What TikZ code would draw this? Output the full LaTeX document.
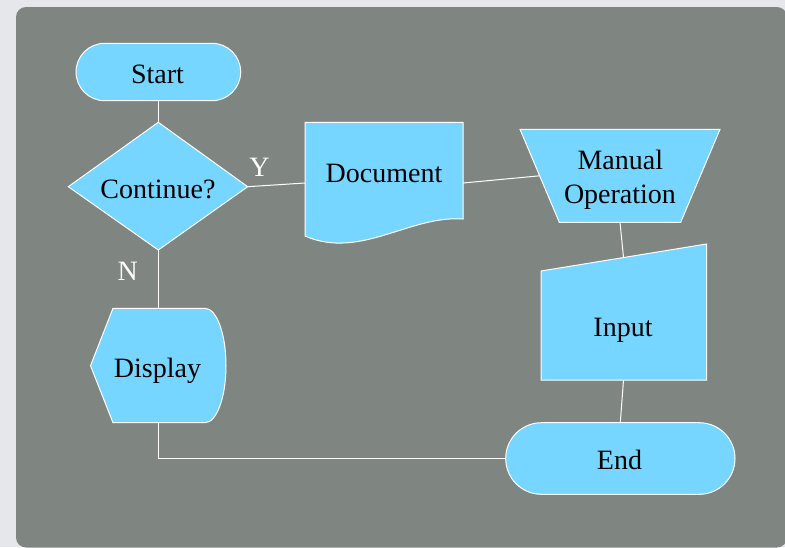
\documentclass[tikz,border=0pt]{standalone}
\usepackage{fontspec}
\setmainfont{Liberation Serif}
\definecolor{bgout}{HTML}{E5E7EA}
\definecolor{panel}{HTML}{7F8682}
\definecolor{shapefill}{HTML}{76D6FF}
\begin{document}
\begin{tikzpicture}[x=1pt,y=-1pt,
  shapebox/.style={fill=shapefill, draw=white, line width=1pt},
  lbl/.style={font=\fontsize{28}{32}\selectfont, text=black, inner sep=0pt, anchor=base},
  yn/.style={font=\fontsize{28}{32}\selectfont, text=white, inner sep=0pt, anchor=base},
  conn/.style={draw=white, line width=1pt}]
\fill[bgout] (0,0) rectangle (785,547);
\useasboundingbox (0,0) rectangle (785,547);
\fill[panel, rounded corners=10pt] (16,7) rectangle (787,547.5);

% Start
\path[shapebox, rounded corners=28.7pt] (76,43.3) rectangle (240.7,100.7);
\coordinate (startS) at (158.3,100.7);
\node[lbl] (start) at (157.5,83.3) {Start};

% Continue?
\path[shapebox] (158.3,122.3) -- (247.7,186.7) -- (158.3,250) -- (68.3,186.7) -- cycle;
\coordinate (contN) at (158.3,122.3);
\coordinate (contE) at (247.7,186.7);
\coordinate (contS) at (158.3,250);
\node[lbl] (cont) at (158,198.3) {Continue?};

% Document
\path[shapebox] (305,122.3) -- (463,122.3) -- (463,219)
  .. controls (410,215) and (360,260) .. (305,236) -- cycle;
\coordinate (docW) at (305,183);
\coordinate (docE) at (463,183);
\node[lbl] (doc) at (384,182.3) {Document};

% Manual Operation
\path[shapebox] (520,129.3) -- (720,129.3) -- (680.7,222.3) -- (559.3,222.3) -- cycle;
\coordinate (manW) at (539.7,175.8);
\coordinate (manS) at (620,222.3);
\node[lbl] (manA) at (620.3,169) {Manual};
\node[lbl] (manB) at (620,203.3) {Operation};

% Input
\path[shapebox] (541,271) -- (706.5,244) -- (706.5,380) -- (541,380) -- cycle;
\coordinate (inN) at (623.5,257.5);
\coordinate (inS) at (623.5,380);
\node[lbl] (input) at (623,336.7) {Input};

% Display
\path[shapebox] (90.5,365.7) -- (113,308.3) -- (205,308.3)
  .. controls (216.6,308.3) and (226,333.8) .. (226,365.7)
  .. controls (226,397.4) and (216.6,422.7) .. (205,422.7)
  -- (113,422.7) -- cycle;
\coordinate (dispN) at (158.3,308.3);
\coordinate (dispS) at (158.3,422.7);
\node[lbl] (disp) at (157.5,377.3) {Display};

% End
\path[shapebox, rounded corners=35.8pt] (505.7,422.7) rectangle (735,494.3);
\coordinate (endN) at (620.3,422.7);
\coordinate (endW) at (505.7,458.5);
\node[lbl] (endn) at (619.5,469.3) {End};

% connectors
\draw[conn] (startS) -- (contN);
\draw[conn] (contE) -- (docW);
\draw[conn] (docE) -- (manW);
\draw[conn] (manS) -- (inN);
\draw[conn] (inS) -- (endN);
\draw[conn] (contS) -- (dispN);
\draw[conn] (dispS) |- (endW);

% labels
\node[yn] (ylab) at (259.5,176.7) {Y};
\node[yn] (nlab) at (127.8,280.7) {N};
\end{tikzpicture}
\end{document}
